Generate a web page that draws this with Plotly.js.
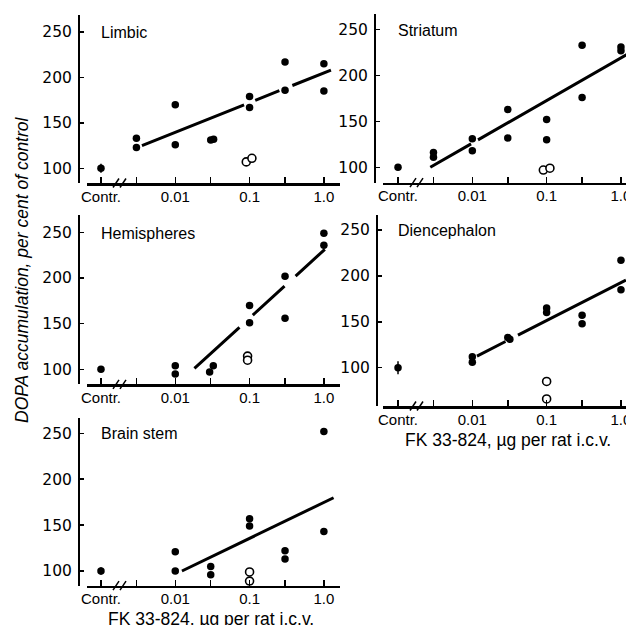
<!DOCTYPE html>
<html>
<head>
<meta charset="utf-8">
<script src="https://cdn.plot.ly/plotly-3.0.1.min.js"></script>
<style>html,body{margin:0;padding:0;background:#fff;}#chart{width:626px;height:625px;}</style>
</head>
<body>
<div id="chart"></div>
<script>
// ---- data (dose in µg per rat i.c.v.; "Contr." plotted at 0.001) ----
const xTickVals = [0.001, 0.003, 0.01, 0.03, 0.1, 0.3, 1];
const xTickText = ['Contr.', '', '0.01', '', '0.1', '', '1.0'];
const yTickVals = [100, 150, 200, 250];
const panelNames = ['Limbic', 'Striatum', 'Hemispheres', 'Diencephalon', 'Brain stem'];
const xTitle = 'FK 33-824, µg per rat i.c.v.';
const yTitle = 'DOPA accumulation, per cent of control';

const ctrlX = [0.001];
const ctrlY = [100];

const limbicCtrlErr = [5];
const limbicX = [0.003, 0.003, 0.01, 0.01, 0.03, 0.0328, 0.1, 0.1, 0.3, 0.3, 1, 1];
const limbicY = [133, 123, 170, 126, 131, 132, 179, 167, 217, 186, 215, 185];
const limbicOpenX = [0.0903, 0.1075];
const limbicOpenY = [107, 111];
const limbicFitX = [0.00356, 1.245];
const limbicFitY = [124.9, 208.1];

const striatumCtrlErr = [1.5];
const striatumX = [0.003, 0.003, 0.01, 0.01, 0.03, 0.03, 0.1, 0.1, 0.3, 0.3, 1, 1];
const striatumY = [116, 111, 131, 118, 163, 132, 152, 130, 233, 176, 231, 227];
const striatumOpenX = [0.0903, 0.1107];
const striatumOpenY = [97, 99];
const striatumFitX = [0.00272, 1.2];
const striatumFitY = [100, 223];

const hemiCtrlErr = [3];
const hemiX = [0.01, 0.01, 0.029, 0.0325, 0.1, 0.1, 0.3, 0.3, 1, 1];
const hemiY = [104, 95, 97, 104, 170, 151, 202, 156, 249, 236];
const hemiOpenX = [0.094, 0.094];
const hemiOpenY = [114.5, 110];
const hemiFitX = [0.0181, 1.03];
const hemiFitY = [101, 231.4];

const dienCtrlErr = [7];
const dienX = [0.01, 0.01, 0.03, 0.032, 0.1, 0.1, 0.3, 0.3, 1, 1];
const dienY = [112, 106, 133, 131, 165, 160, 157, 148, 217, 185];
const dienOpenX = [0.1, 0.1];
const dienOpenY = [85, 66];
const dienFitX = [0.01156, 1.167];
const dienFitY = [112.7, 195.5];

const stemCtrlErr = [4];
const stemX = [0.01, 0.01, 0.03, 0.03, 0.1, 0.1, 0.3, 0.3, 1, 1];
const stemY = [121, 100, 105, 96, 157, 149, 122, 113, 252, 143];
const stemOpenX = [0.1, 0.1];
const stemOpenY = [99, 89];
const stemFitX = [0.0123, 1.35];
const stemFitY = [100, 179.8];

// ---- styling / layout ----
const W = 626, H = 625;
const px = x => x / W;
const py = y => 1 - y / H;
const SANS = 'Liberation Sans, Arial, sans-serif';
const DEJ = 'DejaVu Sans, sans-serif';

const panels = [
  {ax: '', ctrlErr: limbicCtrlErr, x: limbicX, y: limbicY, ox: limbicOpenX, oy: limbicOpenY, fx: limbicFitX, fy: limbicFitY, dash: '110px,12px,26px,14px,60px,100px'},
  {ax: '2', ctrlErr: striatumCtrlErr, x: striatumX, y: striatumY, ox: striatumOpenX, oy: striatumOpenY, fx: striatumFitX, fy: striatumFitY, dash: '47px,8px,400px,100px'},
  {ax: '3', ctrlErr: hemiCtrlErr, x: hemiX, y: hemiY, ox: hemiOpenX, oy: hemiOpenY, fx: hemiFitX, fy: hemiFitY, dash: '61px,18px,43px,15px,60px,100px'},
  {ax: '4', ctrlErr: dienCtrlErr, x: dienX, y: dienY, ox: dienOpenX, oy: dienOpenY, fx: dienFitX, fy: dienFitY, dash: '32px,14px,300px,100px'},
  {ax: '5', ctrlErr: stemCtrlErr, x: stemX, y: stemY, ox: stemOpenX, oy: stemOpenY, fx: stemFitX, fy: stemFitY, dash: 'solid'}
];

const traces = [];
panels.forEach(p => {
  const xa = 'x' + p.ax, ya = 'y' + p.ax;
  traces.push({type: 'scatter', mode: 'lines', x: p.fx, y: p.fy, xaxis: xa, yaxis: ya,
    line: {color: '#000', width: 3, dash: p.dash}, hoverinfo: 'skip'});
  traces.push({type: 'scatter', mode: 'markers', x: ctrlX, y: ctrlY, xaxis: xa, yaxis: ya,
    marker: {color: '#000', size: 7.5},
    error_y: {type: 'data', array: p.ctrlErr, visible: true, color: '#000', thickness: 1.5, width: 0}});
  traces.push({type: 'scatter', mode: 'markers', x: p.x, y: p.y, xaxis: xa, yaxis: ya,
    marker: {color: '#000', size: 7.5}});
  traces.push({type: 'scatter', mode: 'markers', x: p.ox, y: p.oy, xaxis: xa, yaxis: ya,
    marker: {color: '#fff', size: 8, line: {color: '#000', width: 1.6}}});
});

function xAxis(domain, range, anchor) {
  return {type: 'log', domain: domain, range: range, anchor: anchor,
    showline: true, linewidth: 2.5, linecolor: '#000', mirror: false,
    ticks: 'inside', ticklen: 6, tickwidth: 1.5, tickcolor: '#000',
    tickmode: 'array', tickvals: xTickVals, ticktext: xTickText,
    ticklabelstandoff: -2, ticklabeloverflow: 'allow',
    showgrid: false, zeroline: false,
    tickfont: {family: SANS, size: 15, color: '#000'}};
}
function yAxis(domain, range, pos) {
  return {domain: domain, range: range, anchor: 'free', position: pos,
    showline: true, linewidth: 2, linecolor: '#000',
    ticks: 'inside', ticklen: 4, tickwidth: 1.5, tickcolor: '#000',
    tickmode: 'array', tickvals: yTickVals,
    ticklabelstandoff: 3,
    showgrid: false, zeroline: false,
    tickfont: {family: DEJ, size: 15.5, color: '#000'}};
}

const leftX = [px(87), px(340)], leftR = [-3.188, 0.217];
const rightX = [px(383), 1], rightR = [-3.202, 0.068];

const layout = {
  width: W, height: H,
  margin: {l: 0, r: 0, t: 0, b: 0},
  paper_bgcolor: '#fff', plot_bgcolor: 'rgba(0,0,0,0)',
  showlegend: false,
  xaxis: xAxis(leftX, leftR, 'y'),
  yaxis: yAxis([py(183), py(15)], [83.8, 268.7], px(79)),
  xaxis2: xAxis(rightX, rightR, 'y2'),
  yaxis2: yAxis([py(182.7), py(14)], [83.2, 267.1], px(375)),
  xaxis3: xAxis(leftX, leftR, 'y3'),
  yaxis3: yAxis([py(384.3), py(215)], [83.6, 269], px(79)),
  xaxis4: xAxis(rightX, rightR, 'y4'),
  yaxis4: yAxis([py(406), py(215)], [58.3, 266.3], px(377)),
  xaxis5: xAxis(leftX, leftR, 'y5'),
  yaxis5: yAxis([py(585.7), py(418.3)], [84, 266.3], px(79)),
  annotations: [],
  shapes: []
};

// panel titles
const titlePos = [[99, 33], [396, 30], [99, 233], [396, 231], [99, 433]];
panelNames.forEach((t, i) => {
  layout.annotations.push({text: t, xref: 'paper', yref: 'paper', x: px(titlePos[i][0]), y: py(titlePos[i][1]),
    xanchor: 'left', yanchor: 'middle', showarrow: false, font: {family: SANS, size: 16, color: '#000'}});
});
// x axis titles
[[211, 619], [508, 440]].forEach(p => {
  layout.annotations.push({text: xTitle, xref: 'paper', yref: 'paper', x: px(p[0]), y: py(p[1]),
    xanchor: 'center', yanchor: 'middle', showarrow: false, font: {family: SANS, size: 17.5, color: '#000'}});
});
// y title
layout.annotations.push({text: '<i>' + yTitle + '</i>', xref: 'paper', yref: 'paper', x: px(22), y: py(270),
  xanchor: 'center', yanchor: 'middle', textangle: -90, showarrow: false,
  font: {family: SANS, size: 17.5, color: '#000'}});

// axis break marks "//"
[[0, 183], [0, 384.3], [0, 585.7], [297, 182.7], [297, 406]].forEach(b => {
  const dx = b[0], ay = b[1];
  [113, 120].forEach(x0 => {
    layout.shapes.push({type: 'line', xref: 'paper', yref: 'paper',
      x0: px(x0 + dx), y0: py(ay + 4.5), x1: px(x0 + 6 + dx), y1: py(ay - 4.5),
      line: {color: '#000', width: 1.5}});
  });
});

Plotly.newPlot('chart', traces, layout, {staticPlot: true, displayModeBar: false});
</script>
</body>
</html>
